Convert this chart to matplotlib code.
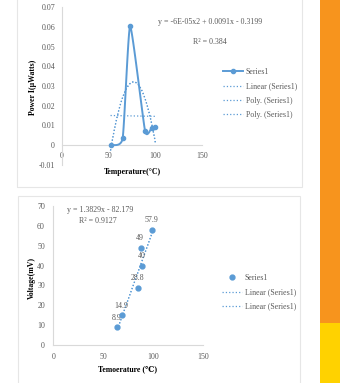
import numpy as np
import matplotlib
matplotlib.use("Agg")
import matplotlib.pyplot as plt
from matplotlib.patches import Rectangle
from matplotlib.lines import Line2D

plt.rcParams['font.family'] = ['Liberation Serif', 'DejaVu Serif']

# top chart: power vs temperature
temp_p = [52, 65, 73, 89, 96, 100]
power = [0.0, 0.0036, 0.0603, 0.0072, 0.0087, 0.0091]
# bottom chart: voltage vs temperature
temp_v = [64, 69, 85, 89, 87.5, 99]
voltage = [8.9, 14.9, 28.8, 40, 49, 57.9]
volt_labels = ['8.9', '14.9', '28.8', '40', '49', '57.9']

blue = '#5B9BD5'
grey_txt = '#595959'
W, H = 340, 383


def smooth(x, y, k=0.25, n=20):
    # hermite curve through the points, soft tangents (excel-ish smoothed line)
    x = np.asarray(x, float)
    y = np.asarray(y, float)
    mx = np.gradient(x) * 2 * k
    my = np.gradient(y) * 2 * k
    ox, oy = [], []
    t = np.linspace(0, 1, n)
    h00 = 2 * t ** 3 - 3 * t ** 2 + 1
    h10 = t ** 3 - 2 * t ** 2 + t
    h01 = -2 * t ** 3 + 3 * t ** 2
    h11 = t ** 3 - t ** 2
    for i in range(len(x) - 1):
        ox.extend(h00 * x[i] + h10 * mx[i] + h01 * x[i + 1] + h11 * mx[i + 1])
        oy.extend(h00 * y[i] + h10 * my[i] + h01 * y[i + 1] + h11 * my[i + 1])
    return np.array(ox), np.array(oy)


def pax(fig, x0, y0, x1, y1):
    return fig.add_axes([x0 / W, 1 - y1 / H, (x1 - x0) / W, (y1 - y0) / H])


def style(ax):
    for s in ['top', 'right']:
        ax.spines[s].set_visible(False)
    for s in ['left', 'bottom']:
        ax.spines[s].set_color('#D9D9D9')
        ax.spines[s].set_linewidth(0.8)
    ax.tick_params(length=0, labelsize=5.7, colors=grey_txt)
    ax.set_facecolor('none')


fig = plt.figure(figsize=(3.4, 3.83), dpi=100)

# background panels
fig.patches.append(Rectangle((17 / W, 1 - 187 / H), 285 / W, 200 / H, transform=fig.transFigure,
                             fill=False, edgecolor='#E6E6E6', linewidth=0.8))
fig.patches.append(Rectangle((18 / W, -0.1), 282 / W, (1 - 196 / H) + 0.1, transform=fig.transFigure,
                             fill=False, edgecolor='#E6E6E6', linewidth=0.8))
fig.patches.append(Rectangle((320 / W, 1 - 323 / H), 20 / W, 323 / H, transform=fig.transFigure,
                             facecolor='#F7941D', edgecolor='none'))
fig.patches.append(Rectangle((320 / W, 0), 20 / W, 1 - 323 / H, transform=fig.transFigure,
                             facecolor='#FFD200', edgecolor='none'))

# ---- top chart
ax1 = pax(fig, 62, 7, 202, 165)
style(ax1)
ax1.set_xlim(0, 150)
ax1.set_ylim(-0.01, 0.07)
ax1.spines['bottom'].set_position(('data', 0))
ax1.set_xticks([0, 50, 100, 150])
ax1.set_yticks(np.arange(-0.01, 0.071, 0.01))
ax1.set_yticklabels(['-0.01', '0', '0.01', '0.02', '0.03', '0.04', '0.05', '0.06', '0.07'])
ax1.tick_params(axis='x', pad=5)
ax1.tick_params(axis='y', pad=5)

sx, sy = smooth(temp_p, power)
ax1.plot(sx, sy, color=blue, lw=1.4, zorder=3)
ax1.plot(temp_p, power, 'o', color=blue, ms=3, zorder=4)
tx = np.linspace(min(temp_p), max(temp_p), 100)
lin = np.polyfit(temp_p, power, 1)
ax1.plot(tx, np.polyval(lin, tx), ':', color=blue, lw=0.9)
quad = np.polyfit(temp_p, power, 2)
ax1.plot(tx, np.polyval(quad, tx), ':', color=blue, lw=0.9)
ax1.plot(tx, np.polyval(quad, tx), ':', color=blue, lw=0.9)

fig.text(210 / W, 1 - 22 / H, 'y = -6E-05x2 + 0.0091x - 0.3199', fontsize=5.7, color=grey_txt,
         ha='center', va='center')
fig.text(210 / W, 1 - 42 / H, 'R² = 0.384', fontsize=5.7, color=grey_txt, ha='center', va='center')
fig.text(33 / W, 1 - 87 / H, 'Power I(μWatts)', rotation=90, fontsize=5.6, fontweight='bold',
         ha='center', va='center')
fig.text(132 / W, 1 - 172 / H, 'Temperature(°C)', fontsize=5.6, fontweight='bold',
         ha='center', va='center')

h1 = [Line2D([], [], color=blue, lw=1.4, marker='o', ms=3),
      Line2D([], [], color=blue, lw=0.9, ls=':'),
      Line2D([], [], color=blue, lw=0.9, ls=':'),
      Line2D([], [], color=blue, lw=0.9, ls=':')]
fig.legend(h1, ['Series1', 'Linear (Series1)', 'Poly. (Series1)', 'Poly. (Series1)'],
           loc='upper left', bbox_to_anchor=(219 / W, 1 - 64 / H), frameon=False,
           fontsize=5.7, handlelength=2.5, handletextpad=0.35, labelspacing=0.8,
           labelcolor=grey_txt, borderpad=0)

# ---- bottom chart
ax2 = pax(fig, 53.3, 206, 203.3, 345)
style(ax2)
ax2.set_xlim(0, 150)
ax2.set_ylim(0, 70)
ax2.set_xticks([0, 50, 100, 150])
ax2.set_yticks(range(0, 71, 10))
ax2.tick_params(axis='x', pad=6)
ax2.tick_params(axis='y', pad=6)

ax2.plot(temp_v, voltage, 'o', color=blue, ms=3.5, zorder=4)
tv = np.linspace(min(temp_v), max(temp_v), 50)
fit = np.polyfit(temp_v, voltage, 1)
ax2.plot(tv, np.polyval(fit, tv), ':', color=blue, lw=0.9)
ax2.plot(tv, np.polyval(fit, tv), ':', color=blue, lw=0.9)
for t, v, lab in zip(temp_v, voltage, volt_labels):
    ax2.annotate(lab, (t, v), xytext=(-0.5, 4), textcoords='offset points', ha='center',
                 va='bottom', fontsize=5.7, color=grey_txt)

fig.text(100 / W, 1 - 210.5 / H, 'y = 1.3829x - 82.179', fontsize=5.7, color=grey_txt,
         ha='center', va='center')
fig.text(98 / W, 1 - 221.5 / H, 'R² = 0.9127', fontsize=5.7, color=grey_txt, ha='center', va='center')
fig.text(32 / W, 1 - 278 / H, 'Voltage(mV)', rotation=90, fontsize=5.6, fontweight='bold',
         ha='center', va='center')
fig.text(128 / W, 1 - 369 / H, 'Temoerature (℃)', fontsize=5.6, fontweight='bold',
         ha='center', va='center')

h2 = [Line2D([], [], color=blue, ls='none', marker='o', ms=3.5),
      Line2D([], [], color=blue, lw=0.9, ls=':'),
      Line2D([], [], color=blue, lw=0.9, ls=':')]
fig.legend(h2, ['Series1', 'Linear (Series1)', 'Linear (Series1)'],
           loc='upper left', bbox_to_anchor=(218 / W, 1 - 270 / H), frameon=False,
           fontsize=5.7, handlelength=2.5, handletextpad=0.4, labelspacing=0.8,
           labelcolor=grey_txt, borderpad=0)

fig.savefig('out.png', dpi=100)
